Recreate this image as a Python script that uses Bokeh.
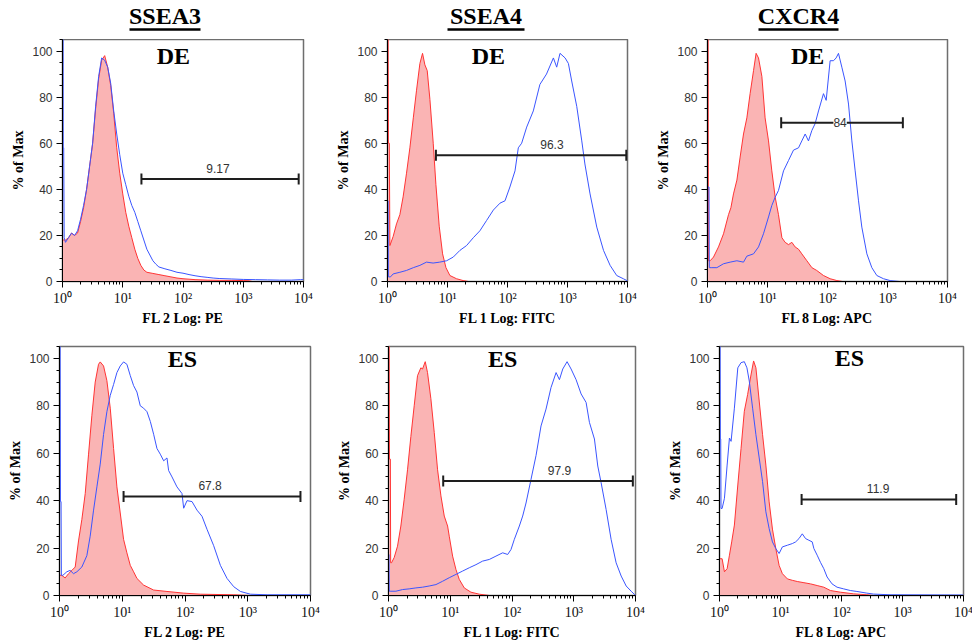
import numpy as np
from bokeh.plotting import figure
from bokeh.models import Range1d, FixedTicker, CustomJSTickFormatter
from bokeh.layouts import row, column
from bokeh.core.properties import value
from bokeh.embed import file_html
from bokeh.resources import INLINE

# ---------------- data (x given as log10 of fluorescence, y as % of max) ----------------
markers = ["SSEA3", "SSEA4", "CXCR4"]
samples = ["DE", "ES"]
channels = ["FL 2 Log: PE", "FL 1 Log: FITC", "FL 8 Log: APC"]

# SSEA3 / DE
ssea3_de_iso_exp = [0.0, 0.05, 0.1, 0.15, 0.2, 0.25, 0.3, 0.35, 0.4, 0.45, 0.5, 0.55, 0.6, 0.65, 0.7, 0.75, 0.8, 0.85, 0.9, 0.95, 1.0, 1.05, 1.1, 1.15, 1.2, 1.25, 1.3, 1.35, 1.4, 1.5, 1.6, 1.7, 1.8, 1.9, 2.0, 2.2, 2.4, 2.6, 2.8, 3.0, 3.1, 3.15, 4.0]
ssea3_de_iso_pct = [18, 18, 19, 21, 20, 21, 26, 32, 40, 50, 60, 75, 88, 96, 98, 93, 85, 73, 58, 47, 38, 30, 24, 19, 14, 10, 7, 5, 4, 3.5, 3, 2.5, 2, 1.5, 1.2, 0.8, 0.6, 0.5, 0.5, 0.4, 0.3, 0, 0]
ssea3_de_stain_exp = [0.0, 0.01, 0.012, 0.02, 0.028, 0.05, 0.1, 0.15, 0.2, 0.25, 0.3, 0.35, 0.4, 0.45, 0.5, 0.55, 0.6, 0.65, 0.7, 0.75, 0.8, 0.85, 0.9, 0.95, 1.0, 1.05, 1.1, 1.15, 1.2, 1.25, 1.3, 1.35, 1.4, 1.45, 1.5, 1.55, 1.6, 1.7, 1.8, 1.9, 2.0, 2.1, 2.2, 2.3, 2.4, 2.5, 2.6, 2.8, 3.0, 3.2, 3.4, 3.6, 3.8, 3.95, 4.0]
ssea3_de_stain_pct = [110, 110, 58, 58, 19, 17, 19, 21, 20, 22, 27, 33, 40, 50, 60, 76, 89, 97, 96, 93, 86, 74, 64, 55, 47, 42, 37, 33, 30, 26, 22, 18, 14, 11.5, 9, 7.5, 6.3, 5.5, 4.8, 4, 3.6, 3, 2.5, 2.1, 1.8, 1.5, 1.3, 1.1, 0.9, 0.8, 0.7, 0.6, 0.6, 0.8, 0.8]

# SSEA4 / DE
ssea4_de_iso_exp = [0.0, 0.01, 0.015, 0.03, 0.04, 0.095, 0.15, 0.206, 0.26, 0.317, 0.373, 0.43, 0.484, 0.54, 0.584, 0.623, 0.662, 0.707, 0.762, 0.807, 0.862, 0.918, 0.974, 1.04, 1.15, 1.26, 1.35, 4.0]
ssea4_de_iso_pct = [110, 110, 60, 60, 15.6, 19.6, 25, 29, 36.7, 47, 58, 71, 83, 94.6, 99, 94, 91.5, 79, 60, 42, 24, 12, 6, 2.6, 1.2, 0.4, 0, 0]
ssea4_de_stain_exp = [0.0, 0.01, 0.015, 0.05, 0.095, 0.206, 0.317, 0.43, 0.54, 0.65, 0.76, 0.87, 0.985, 1.096, 1.207, 1.318, 1.43, 1.54, 1.652, 1.764, 1.875, 1.958, 2.04, 2.125, 2.18, 2.236, 2.32, 2.43, 2.54, 2.65, 2.765, 2.82, 2.875, 2.96, 3.015, 3.07, 3.154, 3.238, 3.29, 3.376, 3.488, 3.6, 3.71, 3.82, 3.93, 3.99, 4.0]
ssea4_de_stain_pct = [35, 35, 2, 2, 3.3, 4, 4.8, 6, 7, 8.4, 8, 8.4, 9, 10.6, 13.5, 15.6, 19, 22, 26.5, 31, 34, 35, 41, 48, 58, 60, 67, 74, 85.5, 90, 97, 93, 99, 97, 94.6, 87, 76, 61, 51, 38, 23.6, 13.5, 7, 2.6, 1.2, 0.4, 0.4]

# CXCR4 / DE
cxcr4_de_iso_exp = [0.0, 0.01, 0.015, 0.044, 0.1, 0.183, 0.267, 0.35, 0.39, 0.433, 0.49, 0.544, 0.6, 0.656, 0.71, 0.767, 0.81, 0.85, 0.906, 0.96, 1.017, 1.072, 1.128, 1.183, 1.24, 1.294, 1.35, 1.406, 1.46, 1.517, 1.572, 1.656, 1.74, 1.82, 1.933, 2.044, 2.156, 2.25, 4.0]
cxcr4_de_iso_pct = [110, 110, 9, 9, 10.6, 15, 20.7, 29, 32, 38, 44, 54, 64, 71, 81.5, 91.5, 99, 97, 89, 71, 61, 48, 36.6, 29, 19, 17, 16, 17, 15, 14, 12, 9, 6, 4.8, 2.6, 1.2, 0.4, 0, 0]
cxcr4_de_stain_exp = [0.0, 0.025, 0.03, 0.072, 0.156, 0.267, 0.378, 0.489, 0.6, 0.656, 0.767, 0.85, 0.933, 1.017, 1.072, 1.128, 1.183, 1.267, 1.35, 1.433, 1.517, 1.572, 1.628, 1.683, 1.739, 1.794, 1.85, 1.933, 1.978, 2.044, 2.1, 2.144, 2.183, 2.239, 2.294, 2.35, 2.406, 2.461, 2.517, 2.572, 2.656, 2.739, 2.822, 2.933, 3.044, 3.2, 4.0]
cxcr4_de_stain_pct = [41, 41, 6, 6, 6, 7.7, 8.4, 9, 8.4, 11, 12, 15, 20.7, 28, 33, 36.6, 39.5, 48, 52.5, 57, 58, 61, 64, 61, 65.5, 68.5, 74, 81.5, 78.6, 95.8, 95.8, 97, 99, 93, 87, 77, 61, 48, 35, 23.6, 12, 6, 2.6, 1.2, 0.4, 0, 0]

# SSEA3 / ES
ssea3_es_iso_exp = [0.0, 0.037, 0.09, 0.144, 0.197, 0.25, 0.303, 0.356, 0.41, 0.463, 0.516, 0.569, 0.622, 0.649, 0.702, 0.755, 0.809, 0.862, 0.915, 0.968, 1.021, 1.074, 1.128, 1.181, 1.234, 1.34, 1.5, 1.713, 1.979, 2.245, 2.777, 3.04, 4.0]
ssea3_es_iso_pct = [8.5, 8.5, 7.4, 9.2, 10.6, 12, 23, 32, 43, 59.6, 76, 90, 97.5, 98.5, 96.8, 90.6, 79, 62, 45.8, 34.8, 23.7, 18, 12.7, 10, 7.2, 4.4, 2.3, 1.7, 1, 0.55, 0.3, 0, 0]
ssea3_es_stain_exp = [0.0, 0.01, 0.015, 0.025, 0.03, 0.053, 0.117, 0.17, 0.223, 0.277, 0.356, 0.436, 0.489, 0.543, 0.596, 0.649, 0.702, 0.755, 0.809, 0.862, 0.915, 0.968, 1.021, 1.074, 1.128, 1.181, 1.234, 1.287, 1.34, 1.394, 1.447, 1.5, 1.553, 1.606, 1.66, 1.713, 1.739, 1.793, 1.872, 1.952, 1.979, 2.032, 2.112, 2.191, 2.271, 2.351, 2.457, 2.564, 2.67, 2.777, 2.883, 3.043, 3.309, 4.0]
ssea3_es_stain_pct = [110, 110, 39.6, 39.6, 8.5, 8.5, 10, 10.6, 9.2, 10, 12, 16.8, 25, 36, 45.8, 55.4, 67.9, 77.5, 84.4, 89, 94, 96.8, 98.5, 97.5, 92.7, 88.5, 85.8, 80, 79, 77.5, 73.4, 68, 62, 59.6, 56.8, 58, 52.7, 50, 45.8, 43, 36.8, 40, 39.6, 36, 33.4, 27.9, 21, 12.7, 7.2, 3.7, 1.7, 0.55, 0.3, 0.3]

# SSEA4 / ES
ssea4_es_iso_exp = [0.0, 0.01, 0.015, 0.03, 0.035, 0.049, 0.092, 0.146, 0.2, 0.254, 0.308, 0.362, 0.416, 0.47, 0.524, 0.551, 0.595, 0.632, 0.686, 0.741, 0.795, 0.849, 0.903, 0.957, 0.984, 1.038, 1.092, 1.146, 1.227, 1.335, 1.47, 1.632, 4.0]
ssea4_es_iso_pct = [110, 110, 57.5, 57.5, 13.8, 13.8, 16, 20.8, 29.3, 40.6, 53, 67, 80, 92.7, 96, 95.5, 98.6, 94, 83, 68.7, 53, 42, 33.5, 29.3, 25, 16.6, 11, 6.8, 3.2, 1.4, 0.56, 0, 0]
ssea4_es_stain_exp = [0.0, 0.008, 0.012, 0.038, 0.119, 0.227, 0.335, 0.443, 0.551, 0.659, 0.768, 0.876, 0.984, 1.092, 1.2, 1.308, 1.416, 1.524, 1.632, 1.74, 1.849, 1.93, 1.984, 2.038, 2.119, 2.173, 2.227, 2.308, 2.389, 2.47, 2.551, 2.632, 2.714, 2.768, 2.822, 2.892, 2.957, 3.038, 3.119, 3.2, 3.254, 3.335, 3.389, 3.443, 3.524, 3.605, 3.686, 3.768, 3.849, 3.93, 3.984, 4.0]
ssea4_es_stain_pct = [17.3, 17.3, 1.8, 1.8, 1.8, 2.5, 2.8, 3.2, 3.5, 4, 4.6, 6, 7.5, 8.9, 10.3, 11.7, 13, 14.5, 15.2, 16.6, 18, 17.3, 19.4, 23.7, 29.3, 33.5, 39, 49, 59, 71.5, 78.6, 87.7, 94, 91, 95.5, 98.6, 95.5, 91, 85, 81.4, 73, 66, 54.6, 47.6, 36.3, 23.7, 13.8, 8.2, 4, 1.8, 0.4, 0.4]

# CXCR4 / ES
cxcr4_es_iso_exp = [0.0, 0.043, 0.081, 0.125, 0.163, 0.2, 0.244, 0.3, 0.353, 0.407, 0.461, 0.516, 0.559, 0.597, 0.651, 0.706, 0.76, 0.814, 0.868, 0.923, 0.977, 1.031, 1.113, 1.194, 1.275, 1.384, 1.493, 1.601, 1.71, 1.818, 1.981, 2.198, 2.415, 2.524, 4.0]
cxcr4_es_iso_pct = [15.5, 15.5, 10, 11.3, 17, 22.6, 29.7, 46.6, 62, 77.7, 84.7, 93, 98.9, 96, 82, 67.8, 55, 39.5, 28, 19.8, 12.7, 9.2, 7, 6.4, 5.9, 5.4, 4.9, 4.2, 3.5, 2.1, 1.4, 0.7, 0.3, 0, 0]
cxcr4_es_stain_exp = [0.0, 0.01, 0.014, 0.02, 0.025, 0.043, 0.081, 0.125, 0.163, 0.19, 0.244, 0.3, 0.353, 0.407, 0.45, 0.488, 0.543, 0.597, 0.651, 0.706, 0.76, 0.814, 0.868, 0.923, 0.977, 1.031, 1.113, 1.194, 1.248, 1.303, 1.357, 1.411, 1.465, 1.52, 1.547, 1.601, 1.655, 1.71, 1.764, 1.845, 1.927, 2.035, 2.144, 2.252, 2.415, 2.524, 2.795, 4.0]
cxcr4_es_stain_pct = [110, 110, 66, 66, 36.7, 36.7, 41, 55, 66.4, 65, 79, 96, 98.2, 98.6, 96, 90.4, 79, 67.8, 58, 48, 35.3, 28.2, 22.6, 19.8, 17.7, 20.5, 21.2, 21.9, 22.6, 24, 26, 24, 23.3, 22.6, 19.8, 17, 14, 11.3, 7.8, 4.9, 3.5, 2.8, 2.1, 1.7, 1, 0.6, 0.3, 0.2]

# gates (order: SSEA3 DE, SSEA4 DE, CXCR4 DE, SSEA3 ES, SSEA4 ES, CXCR4 ES)
gate_start_exp = [1.31, 0.807, 1.228, 1.021, 0.886, 1.346]
gate_end_exp = [3.92, 3.98, 3.256, 3.84, 3.957, 3.88]
gate_level_pct = [44.5, 54.8, 68.9, 41.7, 48.3, 40.5]
gate_label_exp = [2.58, 2.74, 2.21, 2.40, 2.77, 2.60]
gate_values = ["9.17", "96.3", "84", "67.8", "97.9", "11.9"]

iso_exps = [ssea3_de_iso_exp, ssea4_de_iso_exp, cxcr4_de_iso_exp, ssea3_es_iso_exp, ssea4_es_iso_exp, cxcr4_es_iso_exp]
iso_pcts = [ssea3_de_iso_pct, ssea4_de_iso_pct, cxcr4_de_iso_pct, ssea3_es_iso_pct, ssea4_es_iso_pct, cxcr4_es_iso_pct]
stain_exps = [ssea3_de_stain_exp, ssea4_de_stain_exp, cxcr4_de_stain_exp, ssea3_es_stain_exp, ssea4_es_stain_exp, cxcr4_es_stain_exp]
stain_pcts = [ssea3_de_stain_pct, ssea4_de_stain_pct, cxcr4_de_stain_pct, ssea3_es_stain_pct, ssea4_es_stain_pct, cxcr4_es_stain_pct]

# ---------------- layout / style ----------------
FILL = "#FAB4B4"
RED = "#FF3434"
BLUE = "#3A55FF"
GATE = "#1E1E1E"
FRAME = "#6E6E6E"

# (frame_w, frame_h, border left, right, top, bottom, sample label position (log10 x, y))
geom = [
    (241, 242, 62, 30, 0, 45, 1.84, 98.0),
    (240, 242, 54, 26, 0, 45, 1.68, 98.0),
    (240, 242, 51, 28, 0, 45, 1.67, 98.0),
    (251, 249, 59, 24, 18, 45, 1.96, 99.6),
    (247, 249, 52, 27, 18, 45, 1.85, 99.6),
    (244, 249, 57, 11, 18, 45, 2.13, 100.0),
]
HEADER_H = 39
# header strip per column: (width, title centre x, underline left, underline right) in header pixels
header_geom = [(333, 164.5, 129, 200), (320, 152.5, 114, 191), (319, 145, 105, 185)]
TITLE_MID_FROM_TOP = 15.5
UNDERLINE_FROM_TOP = 29

sup_code = """
const s = {"0": "\\u2070", "1": "\\u00b9", "2": "\\u00b2", "3": "\\u00b3", "4": "\\u2074"};
const e = Math.round(Math.log10(tick));
return "10" + s[String(e)];
"""

x_major = [1, 10, 100, 1000, 10000]
x_minor = [m * 10 ** d for d in range(4) for m in range(2, 10)]
y_major = [0, 20, 40, 60, 80, 100]
y_minor = [v for v in range(0, 106, 5) if v % 20]

headers = []
for c in range(3):
    w, cx, u0, u1 = header_geom[c]
    h = figure(width=w, height=HEADER_H, x_range=Range1d(0, w), y_range=Range1d(0, HEADER_H),
               title=None, min_border=0, x_axis_location=None, y_axis_location=None,
               output_backend="svg", toolbar_location=None, tools="")
    h.grid.visible = False
    h.outline_line_color = None
    h.text(x=[cx], y=[HEADER_H - TITLE_MID_FROM_TOP], text=[markers[c]], text_align="center",
           text_baseline="middle", text_font=value("Liberation Serif"),
           text_font_style="bold", text_font_size="24px", text_color="black")
    h.segment(x0=[u0], y0=[HEADER_H - UNDERLINE_FROM_TOP], x1=[u1], y1=[HEADER_H - UNDERLINE_FROM_TOP],
              line_color="black", line_width=2.5)
    headers.append(h)

figs = []
for i in range(6):
    fw, fh, bl, br, bt, bb, sx, sy = geom[i]
    col = i % 3
    rowi = i // 3
    p = figure(x_axis_type="log", x_range=Range1d(1, 1e4), y_range=Range1d(0, 105),
               frame_width=fw, frame_height=fh, title=None,
               min_border_left=bl, min_border_right=br, min_border_top=bt, min_border_bottom=bb,
               output_backend="svg", toolbar_location=None, tools="")
    p.grid.visible = False
    p.outline_line_color = FRAME
    p.outline_line_width = 1.5
    p.background_fill_color = "white"
    p.border_fill_color = "white"

    ix = 10 ** np.array(iso_exps[i])
    iy = np.array(iso_pcts[i])
    p.varea(x=ix, y1=np.zeros_like(iy), y2=iy, fill_color=FILL, fill_alpha=1)
    p.line(ix, iy, line_color=RED, line_width=1)
    p.line(10 ** np.array(stain_exps[i]), stain_pcts[i], line_color=BLUE, line_width=1)

    g0 = 10 ** gate_start_exp[i]
    g1 = 10 ** gate_end_exp[i]
    lvl = gate_level_pct[i]
    p.segment(x0=[g0], y0=[lvl], x1=[g1], y1=[lvl], line_color=GATE, line_width=2)
    p.scatter(x=[g0, g1], y=[lvl, lvl], marker="dash", angle=np.pi / 2, size=11,
              line_color=GATE, line_width=2)
    on_line = gate_values[i] == "84"
    p.text(x=[10 ** gate_label_exp[i]], y=[lvl if on_line else lvl + 2.6], text=[gate_values[i]],
           text_align="center", text_baseline="middle" if on_line else "bottom",
           text_font=value("Liberation Sans"), text_font_size="12px", text_color="#333333",
           background_fill_color="white" if on_line else None)

    p.text(x=[10 ** sx], y=[sy], text=[samples[rowi]], text_align="center", text_baseline="middle",
           text_font=value("Liberation Serif"), text_font_style="bold", text_font_size="24px",
           text_color="black")

    xa = p.xaxis[0]
    xa.ticker = FixedTicker(ticks=x_major, minor_ticks=x_minor)
    xa.formatter = CustomJSTickFormatter(code=sup_code)
    xa.axis_label = channels[col]
    ya = p.yaxis[0]
    ya.ticker = FixedTicker(ticks=y_major, minor_ticks=y_minor)
    ya.axis_label = "% of Max"
    for ax in (xa, ya):
        ax.axis_line_color = "black"
        ax.major_tick_line_color = "black"
        ax.minor_tick_line_color = "black"
        ax.major_tick_out = 6
        ax.major_tick_in = 0
        ax.minor_tick_out = 3
        ax.minor_tick_in = 0
        ax.axis_label_text_font = "Liberation Serif"
        ax.axis_label_text_font_style = "bold"
        ax.axis_label_text_font_size = "14px"
        ax.axis_label_text_color = "black"
    xa.major_label_text_font = "Liberation Serif"
    xa.major_label_text_font_size = "14px"
    xa.major_label_text_color = "#111111"
    xa.major_label_standoff = 3
    xa.axis_label_standoff = 2
    ya.major_label_text_font = "Liberation Sans"
    ya.major_label_text_font_size = "12px"
    ya.major_label_text_color = "#333333"
    ya.major_label_standoff = 4
    ya.axis_label_standoff = 3
    figs.append(p)

layout = column(row(*headers, spacing=0),
                row(figs[0], figs[1], figs[2], spacing=0),
                row(figs[3], figs[4], figs[5], spacing=0), spacing=0)

with open("out.html", "w", encoding="utf-8") as f:
    f.write(file_html(layout, INLINE))
